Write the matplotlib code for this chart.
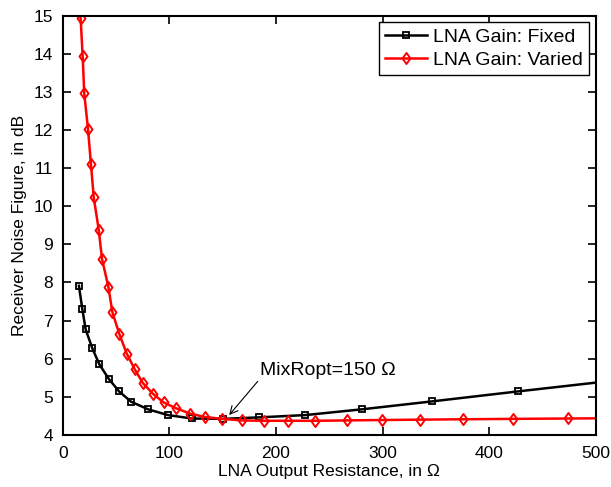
import matplotlib
matplotlib.use("Agg")
import matplotlib.pyplot as plt
from matplotlib.path import Path

plt.rcParams['font.family'] = ['Liberation Sans', 'DejaVu Sans']

# Fixed-gain series
fixed_r = [15, 18.2, 21.3, 27.6, 34.2, 43, 52.7, 64, 80, 98.5, 121, 150, 184.4, 227.6, 280.3, 346.8, 426.8, 525]
fixed_nf = [7.91, 7.30, 6.77, 6.27, 5.85, 5.47, 5.14, 4.87, 4.67, 4.52, 4.43, 4.42, 4.46, 4.52, 4.67, 4.88, 5.14, 5.45]

# Varied-gain series
varied_r = [16.6, 18.5, 20, 23.5, 26.3, 28.9, 33.6, 36.7, 42.6, 46.4, 53, 59.9, 67.4, 75, 84.4,
            94.6, 106, 119.2, 133.2, 149.3, 168, 188.4, 211.4, 237, 266.9, 299.2, 335.2, 375.7,
            422.1, 473.8, 530]
varied_nf = [14.93, 13.94, 12.96, 12.03, 11.10, 10.23, 9.38, 8.61, 7.89, 7.22, 6.64, 6.13, 5.72,
             5.36, 5.08, 4.85, 4.70, 4.56, 4.47, 4.42, 4.38, 4.37, 4.37, 4.37, 4.38, 4.39, 4.40,
             4.41, 4.42, 4.43, 4.44]

xticks = [0, 100, 200, 300, 400, 500]
yticks = list(range(4, 16))

diamond = Path([(0, 1), (0.72, 0), (0, -1), (-0.72, 0), (0, 1)],
               [Path.MOVETO, Path.LINETO, Path.LINETO, Path.LINETO, Path.CLOSEPOLY])

fig = plt.figure(figsize=(6.11, 4.87), dpi=100)
ax = fig.add_axes([0.103, 0.107, 0.872, 0.861])

ax.plot(fixed_r, fixed_nf, color='black', lw=1.8, marker='s', markersize=5,
        markerfacecolor='none', markeredgewidth=1.3, label='LNA Gain: Fixed')
ax.plot(varied_r, varied_nf, color='red', lw=1.8, marker=diamond, markersize=8,
        markerfacecolor='none', markeredgewidth=1.4, label='LNA Gain: Varied')

ax.set_xlim(0, 500)
ax.set_ylim(4, 15)
ax.set_xticks(xticks)
ax.set_yticks(yticks)
ax.tick_params(direction='in', top=True, right=True, length=6, width=1.2, labelsize=12.5)
ax.tick_params(axis='x', pad=8)
ax.tick_params(axis='y', pad=7)
for s in ax.spines.values():
    s.set_linewidth(1.5)

ax.set_xlabel('LNA Output Resistance, in Ω', fontsize=12.5, labelpad=2)
ax.set_ylabel('Receiver Noise Figure, in dB', fontsize=12.5, labelpad=5)

ax.annotate('MixRopt=150 Ω', xy=(156, 4.52), xytext=(185, 5.7),
            fontsize=14, va='center', ha='left',
            arrowprops=dict(arrowstyle='->', color='black', lw=0.8,
                            shrinkA=0, shrinkB=0, relpos=(0, 0)))

leg = ax.legend(loc='upper right', fontsize=14, fancybox=False, framealpha=1,
                edgecolor='black', borderaxespad=0.35, handlelength=2.2,
                borderpad=0.3, labelspacing=0.3, handletextpad=0.3)
leg.get_frame().set_linewidth(1.0)

fig.savefig('out.png', dpi=100)
